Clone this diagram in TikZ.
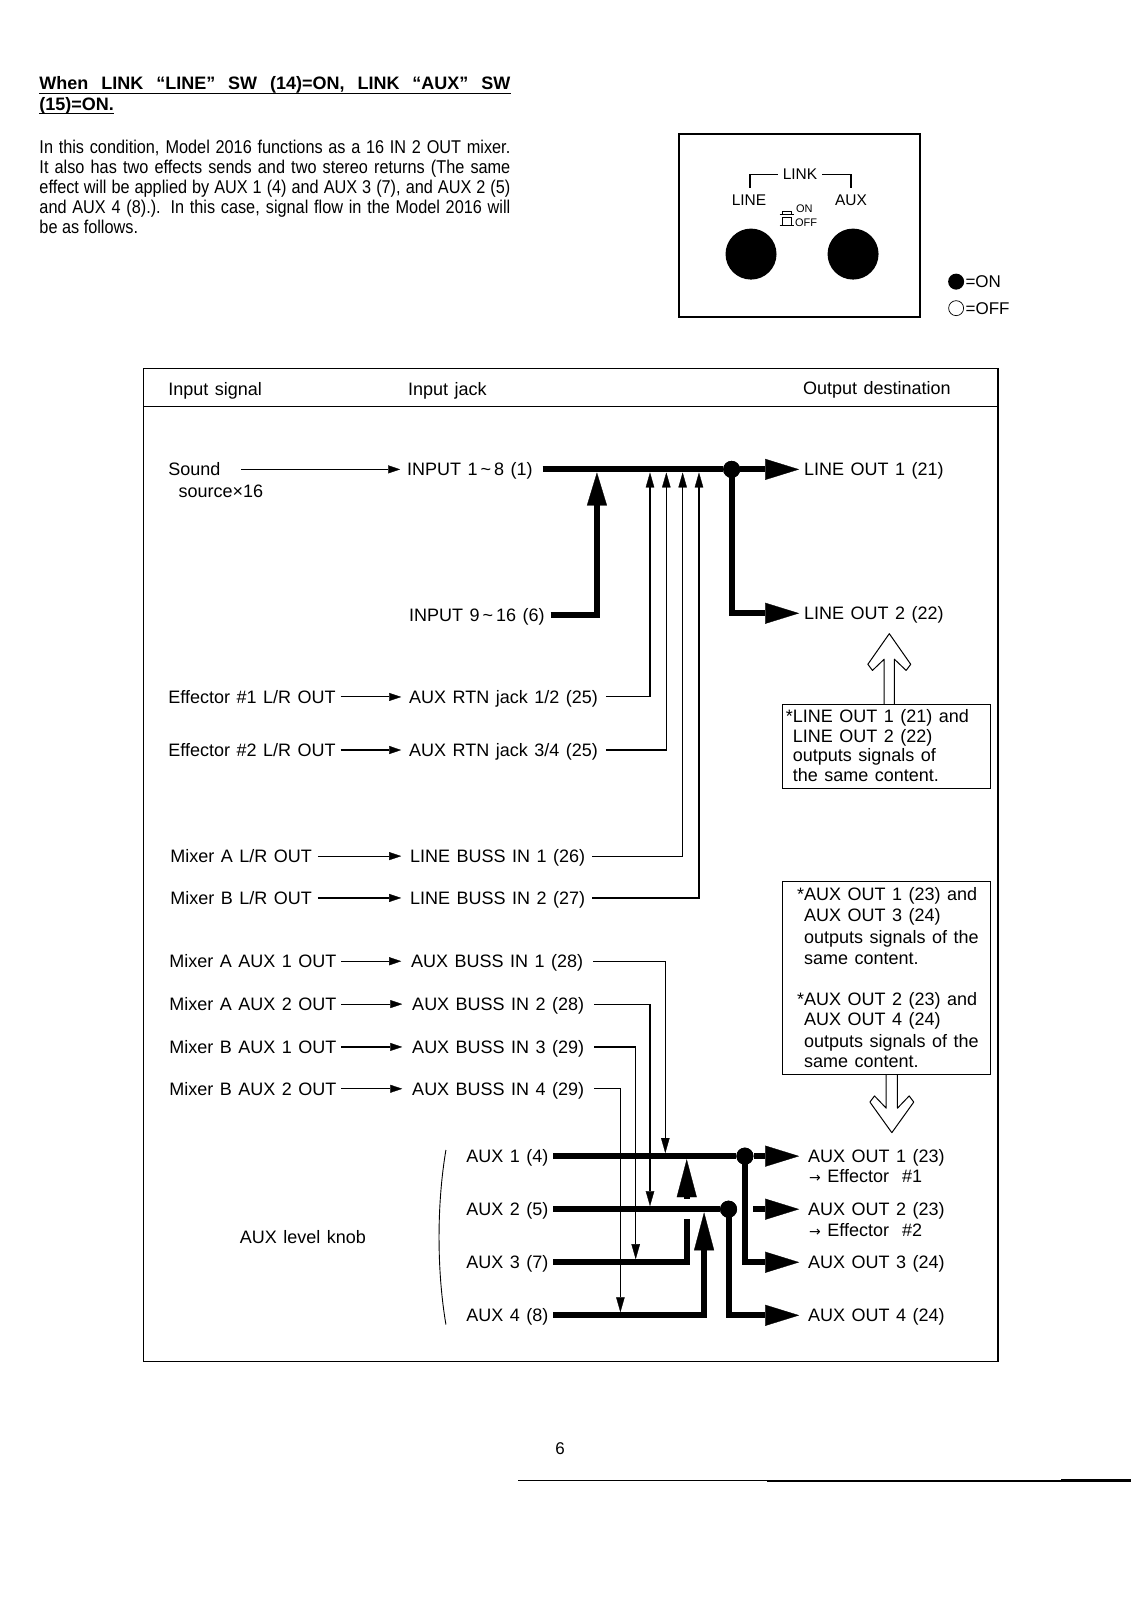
\documentclass[tikz,border=0pt]{standalone}
\usepackage{fontspec}
\setmainfont{Liberation Sans}[WordSpace=1.3]
\newfontfamily\parafont{Liberation Sans}[FakeStretch=0.88]
\newfontfamily\symfont{DejaVu Sans}
\usetikzlibrary{arrows.meta,fit}
\newcommand\lblfont{\fontsize{18}{21}\selectfont}
\begin{document}
\begin{tikzpicture}[x=1.0207pt,y=-1.0207pt,
  lbl/.style={anchor=west, inner sep=0pt, outer sep=0pt, font=\lblfont, text height=12.9pt, text depth=0pt},
  para/.style={anchor=base west, inner sep=0pt, font=\parafont\fontsize{18.5}{20}\selectfont},
  ttl/.style={anchor=base west, inner sep=0pt, font=\bfseries\fontsize{18}{20}\selectfont},
  small/.style={inner sep=0pt, font=\fontsize{15.5}{17}\selectfont},
  thinln/.style={line width=1.1pt},
  sarrow/.style={thinln, -{Triangle[length=12pt,width=8pt,line width=0.3pt]}},
  rtn/.style={thinln, -{Triangle[length=15pt,width=8.5pt,line width=0.3pt]}},
  bus/.style={line width=6pt, line join=miter},
  bigout/.style={-{Triangle[length=34pt,width=21pt,line width=0.3pt]}},
  bigup/.style={-{Triangle[length=33pt,width=20pt,line width=0.3pt]}},
  bigup2/.style={-{Triangle[length=38pt,width=20pt,line width=0.3pt]}},
  dot/.style={circle, fill, inner sep=0pt, minimum size=17pt},
  note/.style={draw, line width=1pt, inner sep=0pt},
  hollow/.style={line width=1pt, line join=round}
]
\fill[white] (0,0) rectangle (1112,1568);
\useasboundingbox (0,0) rectangle (1112,1568);

% ---------- title and paragraph ----------
\node[ttl] (t1) at (38.5,88) {\makebox[471pt][s]{When LINK “LINE” SW (14)=ON, LINK “AUX” SW}};
\node[ttl] (t2) at (38.5,108) {(15)=ON.};
\draw[line width=1.3pt] ([yshift=-3.5pt]t1.base west) -- ([yshift=-3.5pt]t1.base east);
\draw[line width=1.3pt] ([yshift=-3.5pt]t2.base west) -- ([yshift=-3.5pt]t2.base east);

\node[para] (p1) at (38.5,150) {\makebox[471pt][s]{In this condition, Model 2016 functions as a 16 IN 2 OUT mixer.}};
\node[para] (p2) at (38.5,169.6) {\makebox[471pt][s]{It also has two effects sends and two stereo returns (The same}};
\node[para] (p3) at (38.5,189.2) {\makebox[471pt][s]{effect will be applied by AUX 1 (4) and AUX 3 (7), and AUX 2 (5)}};
\node[para] (p4) at (38.5,208.8) {\makebox[471pt][s]{and AUX 4 (8).). In this case, signal flow in the Model 2016 will}};
\node[para] (p5) at (38.5,228.4) {be as follows.};

% ---------- switch panel ----------
\node[draw, line width=2pt, inner sep=0pt, fit={(665,131) (902,311)}] (swbox) {};
\node[small] (link) at (784,171) {LINK};
\coordinate (brl) at (735,184);
\coordinate (brr) at (834,184);
\draw[line width=1.6pt] ([xshift=-5pt]link.west) -| (brl);
\draw[line width=1.6pt] ([xshift=5pt]link.east) -| (brr);
\node[small] (linelbl) at (734,196) {LINE};
\node[small] (auxlbl) at (834,196) {AUX};
\draw[line width=0.9pt] (764,210) -- (778,210);
\draw[line width=0.9pt] (766.5,210) -- (766.5,207.5) -- (775.5,207.5) -- (775.5,210);
\draw[line width=0.9pt] (764,221) -- (778,221);
\draw[line width=0.9pt] (766.5,221) -- (766.5,213.5) -- (775.5,213.5) -- (775.5,221);
\node[anchor=west, inner sep=0pt, font=\fontsize{11}{12}\selectfont] (onlbl) at (780,205) {ON};
\node[anchor=west, inner sep=0pt, font=\fontsize{11}{12}\selectfont] (offlbl) at (779,218.5) {OFF};
\node[circle, fill, inner sep=0pt, minimum size=51pt] (swl) at (736,249) {};
\node[circle, fill, inner sep=0pt, minimum size=51pt] (swa) at (836,249) {};

\node[circle, fill, inner sep=0pt, minimum size=16pt] (lon) at (937,276) {};
\node[anchor=west, inner sep=0pt, font=\fontsize{17}{18}\selectfont] (lontxt) at ([xshift=1pt]lon.east) {=ON};
\node[circle, draw, line width=0.7pt, inner sep=0pt, minimum size=15pt] (loff) at (937,302) {};
\node[anchor=west, inner sep=0pt, font=\fontsize{17}{18}\selectfont] (lofftxt) at ([xshift=1.5pt]loff.east) {=OFF};

% ---------- main frame ----------
\node[draw, line width=1.2pt, inner sep=0pt, fit={(141,361) (978,1334)}] (frame) {};
\coordinate (hdiv) at (0,398);
\draw[line width=1pt] (frame.west |- hdiv) -- (frame.east |- hdiv);
\node[lbl] (hsig) at (165,381) {Input signal};
\node[lbl] (hjack) at (400,381) {Input jack};
\node[lbl] (hout) at (787,380) {Output destination};

% ---------- labels ----------
\node[lbl] (sound) at (165,460) {Sound};
\node[lbl] (sourcex) at (175,481) {source×16};
\node[lbl] (in18) at (399,460) {INPUT 1\,\textasciitilde\,8 (1)};
\node[lbl] (lo1) at (788,460) {LINE OUT 1 (21)};
\node[lbl] (in916) at (401,603) {INPUT 9\,\textasciitilde\,16 (6)};
\node[lbl] (lo2) at (788,601) {LINE OUT 2 (22)};
\node[lbl] (eff1) at (165,683) {Effector \#1 L/R OUT};
\node[lbl] (rtn12) at (401,683) {AUX RTN jack 1/2 (25)};
\node[lbl] (eff2) at (165,735) {Effector \#2 L/R OUT};
\node[lbl] (rtn34) at (401,735) {AUX RTN jack 3/4 (25)};
\node[lbl] (mxa) at (167,839) {Mixer A L/R OUT};
\node[lbl] (lb1) at (402,839) {LINE BUSS IN 1 (26)};
\node[lbl] (mxb) at (167,880) {Mixer B L/R OUT};
\node[lbl] (lb2) at (402,880) {LINE BUSS IN 2 (27)};
\node[lbl] (ma1) at (166,942) {Mixer A AUX 1 OUT};
\node[lbl] (ab1) at (403,942) {AUX BUSS IN 1 (28)};
\node[lbl] (ma2) at (166,984) {Mixer A AUX 2 OUT};
\node[lbl] (ab2) at (404,984) {AUX BUSS IN 2 (28)};
\node[lbl] (mb1) at (166,1026) {Mixer B AUX 1 OUT};
\node[lbl] (ab3) at (404,1026) {AUX BUSS IN 3 (29)};
\node[lbl] (mb2) at (166,1067) {Mixer B AUX 2 OUT};
\node[lbl] (ab4) at (404,1067) {AUX BUSS IN 4 (29)};
\node[lbl] (aux1) at (457,1133) {AUX 1 (4)};
\node[lbl] (aux2) at (457,1185) {AUX 2 (5)};
\node[lbl] (aux3) at (457,1237) {AUX 3 (7)};
\node[lbl] (aux4) at (457,1289) {AUX 4 (8)};
\node[lbl] (ao1) at (792,1133) {AUX OUT 1 (23)};
\node[lbl] (ae1) at (793,1153) {{\symfont\fontsize{14}{14}\selectfont →} Effector \ \#1};
\node[lbl] (ao2) at (792,1185) {AUX OUT 2 (23)};
\node[lbl] (ae2) at (793,1205) {{\symfont\fontsize{14}{14}\selectfont →} Effector \ \#2};
\node[lbl] (ao3) at (792,1237) {AUX OUT 3 (24)};
\node[lbl] (ao4) at (792,1289) {AUX OUT 4 (24)};
\node[lbl] (knob) at (235,1212) {AUX level knob};

% ---------- input side arrows ----------
\draw[sarrow, shorten <=21pt, shorten >=7pt] (sound) -- (in18);
\draw[sarrow, shorten <=5pt, shorten >=8pt] (eff1) -- (rtn12);
\draw[sarrow, shorten <=5pt, shorten >=8pt] (eff2) -- (rtn34);
\draw[sarrow, shorten <=6pt, shorten >=9pt] (mxa) -- (lb1);
\draw[sarrow, shorten <=6pt, shorten >=9pt] (mxb) -- (lb2);
\draw[sarrow, shorten <=5pt, shorten >=10pt] (ma1) -- (ab1);
\draw[sarrow, shorten <=5pt, shorten >=10pt] (ma2) -- (ab2);
\draw[sarrow, shorten <=5pt, shorten >=10pt] (mb1) -- (ab3);
\draw[sarrow, shorten <=5pt, shorten >=10pt] (mb2) -- (ab4);

% ---------- line bus ----------
\node[dot] (j1) at (717,460) {};
\coordinate (t916) at (585,463);
\coordinate (r1) at (637,463);
\coordinate (r2) at (653,463);
\coordinate (r3) at (669,463);
\coordinate (r4) at (685,463);
\draw[bus, shorten <=10pt] (in18) -- (j1);
\draw[bus, bigup, shorten <=6pt] (in916) -| (t916);
\draw[rtn, shorten <=8pt] (rtn12) -| (r1);
\draw[rtn, shorten <=8pt] (rtn34) -| (r2);
\draw[rtn, shorten <=7pt] (lb1) -| (r3);
\draw[rtn, shorten <=7pt] (lb2) -| (r4);
\draw[bus, bigout, shorten >=5pt] (j1) -- (lo1);
\draw[bus, bigout, shorten >=5pt] (j1.center) |- (lo2);
\node[dot] at (j1) {};

% ---------- aux buses ----------
\node[dot] (ja1) at (730,1133) {};
\node[dot] (ja2) at (714,1185) {};
\coordinate (t3) at (673,1136);
\coordinate (t4) at (690,1188);
\coordinate (a1t) at (652,1130);
\coordinate (a2t) at (637,1182);
\coordinate (a3t) at (623,1234);
\coordinate (a4t) at (608,1286);
\draw[bus, bigup2, shorten <=5pt] (aux3) -| (t3);
\draw[bus, bigup2, shorten <=5pt] (aux4) -| (t4);
\fill[white] (667,1175) rectangle (679,1195);
\draw[bus, shorten <=5pt] (aux1) -- (ja1);
\draw[bus, shorten <=5pt] (aux2) -- (ja2);
\draw[rtn, shorten <=10pt] (ab1) -| (a1t);
\draw[rtn, shorten <=10pt] (ab2) -| (a2t);
\draw[rtn, shorten <=10pt] (ab3) -| (a3t);
\draw[rtn, shorten <=10pt] (ab4) -| (a4t);
\draw[bus, bigout, shorten >=9pt] (ja1) -- (ao1);
\draw[bus, bigout, shorten >=9pt] (ja2) -- (ao2);
\draw[bus, bigout, shorten >=9pt] (ja2.center) |- (ao4);
\fill[white] (722,1179) rectangle (738,1191);
\draw[bus, bigout, shorten >=9pt] (ja1.center) |- (ao3);
\node[dot] at (ja1) {};
\node[dot] at (ja2) {};

\draw[line width=0.9pt] (437,1127) .. controls (428,1180) and (428,1245) .. (437,1298);

% ---------- notes ----------
\node[note, fit={(767,690) (971,773)}] (note1) {};
\node[lbl] (n1a) at (777,702) {\llap{*}LINE OUT 1 (21) and};
\node[lbl] (n1b) at (777,721) {LINE OUT 2 (22)};
\node[lbl] (n1c) at (777,740) {outputs signals of};
\node[lbl] (n1d) at (777,760) {the same content.};
\draw[hollow] (866.5,690) -- (866.5,646) -- (855,657) -- (850.5,651) -- (871.5,621) -- (892.5,651) -- (888,657) -- (876.5,646) -- (876.5,690);

\node[note, fit={(767,864) (971,1053)}] (note2) {};
\node[lbl] (n2a) at (788,876) {\llap{*}AUX OUT 1 (23) and};
\node[lbl] (n2b) at (788,897) {AUX OUT 3 (24)};
\node[lbl] (n2c) at (788,918) {outputs signals of the};
\node[lbl] (n2d) at (788,939) {same content.};
\node[lbl] (n2e) at (788,979) {\llap{*}AUX OUT 2 (23) and};
\node[lbl] (n2f) at (788,999) {AUX OUT 4 (24)};
\node[lbl] (n2g) at (788,1020) {outputs signals of the};
\node[lbl] (n2h) at (788,1040) {same content.};
\draw[hollow] (868.5,1053) -- (868.5,1086) -- (857,1074) -- (852.5,1080) -- (874,1110) -- (895.5,1080) -- (891,1074) -- (879.5,1086) -- (879.5,1053);

% ---------- page footer ----------
\node[inner sep=0pt, font=\fontsize{17}{20}\selectfont] (pg) at (549,1420) {6};
\draw[line width=1pt] (508,1451) -- (752,1451);
\draw[line width=1.8pt] (752,1451) -- (1040,1451);
\draw[line width=2.6pt] (1040,1451) -- (1108,1451);
\end{tikzpicture}
\end{document}
